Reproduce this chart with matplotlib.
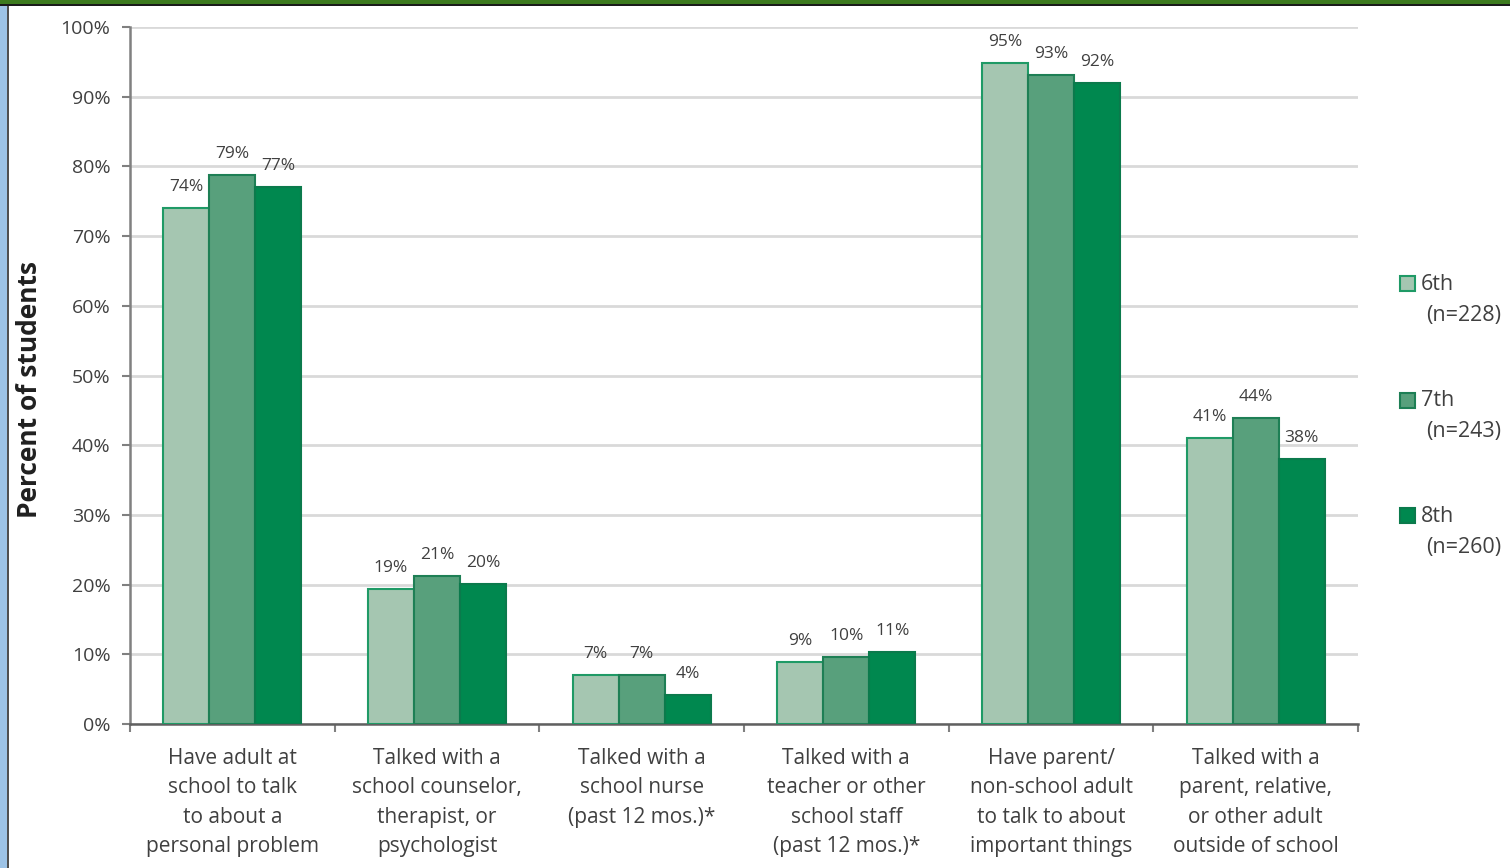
import matplotlib
matplotlib.use("Agg")
import matplotlib.pyplot as plt
from matplotlib.patches import Rectangle
import numpy as np

categories = [
    "Have adult at\nschool to talk\nto about a\npersonal problem",
    "Talked with a\nschool counselor,\ntherapist, or\npsychologist",
    "Talked with a\nschool nurse\n(past 12 mos.)*",
    "Talked with a\nteacher or other\nschool staff\n(past 12 mos.)*",
    "Have parent/\nnon-school adult\nto talk to about\nimportant things",
    "Talked with a\nparent, relative,\nor other adult\noutside of school",
]
series_names = ["6th", "7th", "8th"]
series_n = ["(n=228)", "(n=243)", "(n=260)"]
values_6th = [74.0, 19.4, 7.0, 8.9, 94.8, 41.0]
values_7th = [78.8, 21.2, 7.0, 9.6, 93.1, 43.9]
values_8th = [77.0, 20.1, 4.2, 10.4, 92.0, 38.0]
labels_6th = ["74%", "19%", "7%", "9%", "95%", "41%"]
labels_7th = ["79%", "21%", "7%", "10%", "93%", "44%"]
labels_8th = ["77%", "20%", "4%", "11%", "92%", "38%"]
yticks = [0, 10, 20, 30, 40, 50, 60, 70, 80, 90, 100]

fills = ["#A5C6B1", "#58A07C", "#00884F"]
edges = ["#1F9A66", "#1E7F55", "#0B7A4C"]
txt = "#404040"
FONT = "Open Sans"

W, H = 1510, 868
fig = plt.figure(figsize=(W / 100, H / 100), dpi=100)
fig.patch.set_facecolor("white")

# frame decorations
fig.patches.append(Rectangle((0, 1 - 4 / H), 1, 4 / H, transform=fig.transFigure,
                             facecolor="#3C7A1E", edgecolor="none", zorder=0))
fig.patches.append(Rectangle((0, 1 - 5.5 / H), 1, 1.5 / H, transform=fig.transFigure,
                             facecolor="#1A1A1A", edgecolor="none", zorder=0))
fig.patches.append(Rectangle((0, 0), 7 / W, 1 - 5.5 / H, transform=fig.transFigure,
                             facecolor="#9DC3E6", edgecolor="none", zorder=0))
fig.patches.append(Rectangle((7 / W, 0), 1.5 / W, 1 - 5.5 / H, transform=fig.transFigure,
                             facecolor="#505050", edgecolor="none", zorder=0))

ax = fig.add_axes([130 / W, 1 - 724 / H, (1358 - 130) / W, (724 - 27) / H])
x = np.arange(len(categories))
bw = 0.225
all_vals = [values_6th, values_7th, values_8th]
all_labs = [labels_6th, labels_7th, labels_8th]
for i, (vals, labs) in enumerate(zip(all_vals, all_labs)):
    pos = x + (i - 1) * bw
    ax.bar(pos, vals, width=bw, color=fills[i], edgecolor=edges[i], linewidth=1.5, zorder=3)
    for p, v, l in zip(pos, vals, labs):
        ax.annotate(l, (p, v), xytext=(0, 15), textcoords="offset points",
                    ha="center", va="center", fontsize=12.5, color=txt, family=FONT)

ax.set_xlim(-0.5, len(categories) - 0.5)
ax.set_ylim(0, 100)
ax.set_yticks(yticks)
ax.set_yticklabels([f"{t}%" for t in yticks], fontsize=14, color=txt, family=FONT)
ax.set_xticks(x)
ax.set_xticklabels(categories, fontsize=15, color=txt, family=FONT, linespacing=1.53, va="top")
ax.set_xticks(np.arange(-0.5, len(categories), 1), minor=True)
ax.tick_params(axis="x", which="major", length=0, pad=17)
ax.tick_params(axis="x", which="minor", length=6, width=1.5, color="#808080")
ax.tick_params(axis="y", length=6, width=1.5, color="#808080", pad=8)
ax.grid(axis="y", color="#D9D9D9", linewidth=2, zorder=0)
for s in ["top", "right"]:
    ax.spines[s].set_visible(False)
ax.spines["left"].set_color("#808080")
ax.spines["left"].set_linewidth(1.8)
ax.spines["bottom"].set_color("#606060")
ax.spines["bottom"].set_linewidth(1.8)
ax.set_ylabel("Percent of students", fontsize=19, fontweight="bold", color="#202020",
              family=FONT)
ax.yaxis.set_label_coords((43 - 130) / (1358 - 130), (724 - 390) / (724 - 27))

# legend (manual, two-line labels with marker on the first line)
leg_y = [284, 401, 516]
for i in range(3):
    yy = 1 - leg_y[i] / H
    fig.patches.append(Rectangle((1400 / W, yy - 7 / H), 15 / W, 15 / H, transform=fig.transFigure,
                                 facecolor=fills[i], edgecolor=edges[i], linewidth=1.5))
    fig.text(1421 / W, yy, series_names[i], fontsize=15.5, color=txt, family=FONT,
             va="center", ha="left")
    fig.text(1426 / W, yy - 31 / H, series_n[i], fontsize=15.5, color=txt, family=FONT,
             va="center", ha="left")

fig.savefig("out.png", dpi=100)
